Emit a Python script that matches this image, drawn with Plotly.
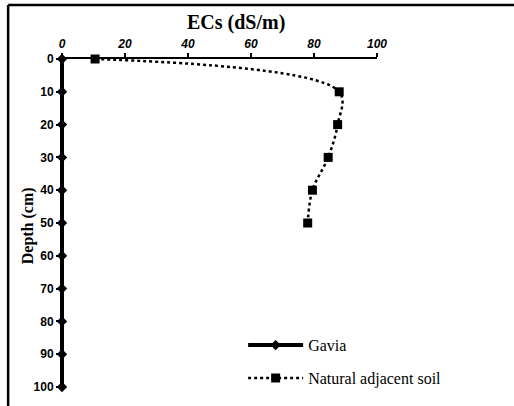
import plotly.graph_objects as go

# Soil profile data: depth (cm) and EC of saturated extract (dS/m)
depth_gavia = [0, 10, 20, 30, 40, 50, 60, 70, 80, 90, 100]
ecs_gavia = [0, 0, 0, 0, 0, 0, 0, 0, 0, 0, 0]

depth_natural = [0, 10, 20, 30, 40, 50]
ecs_natural = [10.5, 88, 87.5, 84.5, 79.5, 78]

x_ticks = [0, 20, 40, 60, 80, 100]
y_ticks = [0, 10, 20, 30, 40, 50, 60, 70, 80, 90, 100]

serif = "Liberation Serif, Times New Roman, serif"
sans = "Liberation Sans, Arial, sans-serif"

fig = go.Figure()

fig.add_trace(go.Scatter(
    x=ecs_gavia, y=depth_gavia, name="Gavia",
    mode="lines+markers",
    line=dict(color="black", width=4),
    marker=dict(symbol="diamond", size=8, color="black"),
    cliponaxis=False,
    legendgroup="a",
))

fig.add_trace(go.Scatter(
    x=ecs_natural, y=depth_natural, name="Natural adjacent soil",
    mode="lines+markers",
    line=dict(color="black", width=2.5, dash="dot", shape="spline", smoothing=1.0),
    marker=dict(symbol="square", size=9, color="black"),
    cliponaxis=False,
    legendgroup="b",
))

fig.update_layout(
    width=514, height=406,
    margin=dict(l=62, r=137, t=59, b=18),
    paper_bgcolor="white", plot_bgcolor="white",
    showlegend=True,
    legend=dict(
        x=0.575, y=0.08, xanchor="left", yanchor="middle",
        font=dict(family=serif, size=16, color="black"),
        traceorder="grouped", tracegroupgap=9,
        itemwidth=55, bgcolor="rgba(0,0,0,0)",
    ),
    xaxis=dict(
        side="top", range=[0, 100], tickvals=x_ticks,
        showgrid=False, zeroline=False,
        showline=True, linecolor="black", linewidth=2,
        ticks="outside", ticklen=4, tickcolor="black", tickwidth=2,
        tickfont=dict(family=sans, size=12, color="black", style="italic", weight="bold"),
    ),
    yaxis=dict(
        range=[100, 0], tickvals=y_ticks,
        showgrid=False, zeroline=False,
        showline=True, linecolor="black", linewidth=2,
        ticks="outside", ticklen=4, tickcolor="black", tickwidth=2,
        tickfont=dict(family=sans, size=12, color="black", weight="bold"),
    ),
    annotations=[
        dict(text="ECs (dS/m)", xref="paper", yref="paper",
             x=(236 - 62) / 315, y=1 + (59 - 22) / 329,
             xanchor="center", yanchor="middle", showarrow=False,
             font=dict(family=serif, size=20, color="black", weight="bold")),
        dict(text="Depth (cm)", xref="paper", yref="paper",
             x=(28 - 62) / 315, y=0.49, xanchor="center", yanchor="middle",
             textangle=-90, showarrow=False,
             font=dict(family=serif, size=16, color="black", weight="bold")),
    ],
    shapes=[
        # outer frame: top and left edges
        dict(type="line", xref="paper", yref="paper",
             x0=-0.171, x1=1.44, y0=1.165, y1=1.165,
             line=dict(color="black", width=2.5)),
        dict(type="line", xref="paper", yref="paper",
             x0=-0.171, x1=-0.171, y0=1.165, y1=-0.06,
             line=dict(color="black", width=2.5)),
    ],
)

fig.write_html("out.html")
